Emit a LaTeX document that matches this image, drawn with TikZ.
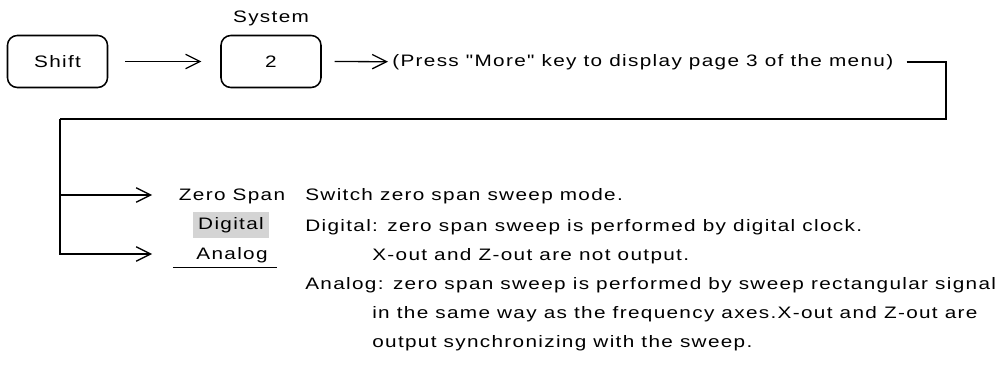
\documentclass[tikz,border=0pt]{standalone}
\usepackage{fontspec}
\newfontfamily\manualfont{Liberation Sans}[FakeStretch=1.25,LetterSpace=8]
\usetikzlibrary{arrows.meta,positioning}
\newcommand\diagfont{\manualfont\fontsize{11.8pt}{14pt}\selectfont}
\tikzset{
  keybox/.style={
    rectangle, rounded corners=7pt, draw=black, line width=1.1pt,
    minimum width=2.5cm, minimum height=1.3cm, inner sep=0pt
  },
  flowarrow/.style={-{Straight Barb[length=3.6mm,width=3.6mm]}, line width=0.9pt},
  flowline/.style={line width=0.9pt},
  menulabel/.style={inner sep=0pt, anchor=base},
  desctext/.style={inner sep=0pt, anchor=base west},
}

\begin{document}
\begin{tikzpicture}[x=0.025cm, y=-0.025cm, every node/.style={font=\diagfont}]
  \useasboundingbox (0,0) rectangle (1003,366);
  % key sequence
  \node (shift) [keybox] at (57.5,61.5) {Shift};
  \node (sys2) [keybox] at (271,61.5) {2};
  \node (sysname) [above=0.22cm of sys2, inner sep=0pt] {System};
  \node (press) [anchor=west, inner sep=0pt] at (392,62) {(Press "More" key to display page 3 of the menu)};
  \draw[flowarrow, shorten <=0.42cm, shorten >=0.47cm] (shift) -- (sys2);
  \draw[flowarrow, shorten <=0.32cm, shorten >=0.1cm] (sys2) -- (press);
  % route down to the soft keys
  \coordinate (bend) at (946,119);
  \coordinate (split) at (60,119);
  \coordinate (tipzs) at (152,195);
  \coordinate (tipan) at (152,254);
  \draw[flowline, shorten <=0.33cm] (press.east) -| (bend) -- (split);
  \draw[flowarrow] (split) |- (tipzs);
  \draw[flowarrow] (split) |- (tipan);
  % soft key labels
  \node (zerospan) [menulabel] at (232,201) {Zero Span};
  \node (digital) [fill=black!17, minimum width=1.9cm, minimum height=0.65cm, inner sep=0pt] at (231,225) {Digital};
  \node (analog) [menulabel] at (232,259) {Analog};
  \draw[flowline] ([xshift=-1.48cm, yshift=-0.12cm]analog.south) -- ([xshift=1.13cm, yshift=-0.12cm]analog.south);
  % description
  \node (d1) [desctext] at (305,201) {Switch zero span sweep mode.};
  \node (d2) [desctext] at (305,231) {Digital: zero span sweep is performed by digital clock.};
  \node (d3) [desctext] at (372,260) {X-out and Z-out are not output.};
  \node (d4) [desctext] at (305,289) {Analog: zero span sweep is performed by sweep rectangular signal};
  \node (d5) [desctext] at (372,318) {in the same way as the frequency axes.X-out and Z-out are};
  \node (d6) [desctext] at (372,347) {output synchronizing with the sweep.};
\end{tikzpicture}
\end{document}
